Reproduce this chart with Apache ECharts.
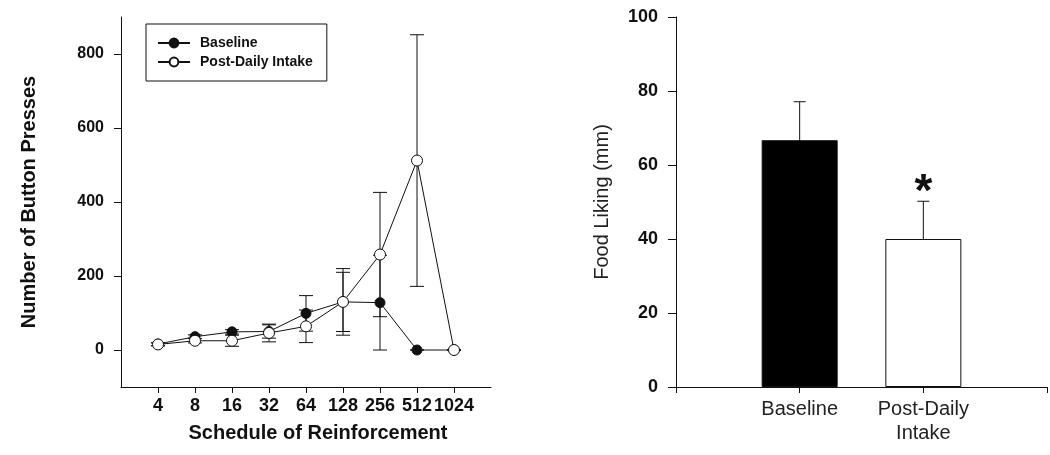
<!DOCTYPE html>
<html>
<head>
<meta charset="utf-8">
<script src="https://cdn.jsdelivr.net/npm/echarts@6/dist/echarts.min.js"></script>
<style>
html,body{margin:0;padding:0;background:#fff;}
#chart{width:1050px;height:455px;}
</style>
</head>
<body>
<div id="chart"></div>
<script>
// ---- Data (left panel) ----
const schedules = ['4', '8', '16', '32', '64', '128', '256', '512', '1024'];
const baseline = [16, 36, 49, 50, 99, 130, 128, 0, 0];
const baselineErr = [4, 5, 6, 18, 48, 80, 128, 0, 0];
const postDaily = [15, 25, 25, 46, 64, 130, 258, 512, 0];
const postDailyErr = [4, 6, 15, 24, 44, 90, 168, 340, 0];
const leftTicks = [0, 200, 400, 600, 800];

// ---- Data (right panel) ----
const groups = ['Baseline', 'Post-Daily\nIntake'];
const liking = [66.7, 40];
const likingErr = [10.4, 10.2];
const significance = ['', '*'];

const FONT = '"Liberation Sans", Arial, sans-serif';
const INK = '#111';

function xy(arr) { return arr.map((v, i) => [i + 1, v]); }
function errData(vals, errs) { return vals.map((v, i) => [i + 1, v, errs[i]]); }

function errRender(capHalf, withSig) {
  return function (params, api) {
    const x = api.value(0), y = api.value(1), e = api.value(2);
    const top = api.coord([x, y + e]);
    const bot = api.coord([x, y - e]);
    const style = { stroke: INK, lineWidth: 1, fill: null };
    const children = [
      { type: 'line', shape: { x1: top[0], y1: top[1], x2: bot[0], y2: bot[1] }, style: style },
      { type: 'line', shape: { x1: top[0] - capHalf, y1: top[1], x2: top[0] + capHalf, y2: top[1] }, style: style },
      { type: 'line', shape: { x1: bot[0] - capHalf, y1: bot[1], x2: bot[0] + capHalf, y2: bot[1] }, style: style }
    ];
    if (withSig) {
      const s = significance[params.dataIndex];
      if (s) {
        children.push({
          type: 'text',
          style: { text: s, x: top[0], y: top[1] + 15, align: 'center', verticalAlign: 'bottom',
            font: 'bold 46px ' + FONT, fill: INK }
        });
      }
    }
    return { type: 'group', children: children };
  };
}

const chart = echarts.init(document.getElementById('chart'), null, { renderer: 'canvas' });

chart.setOption({
  animation: false,
  backgroundColor: '#fff',
  legend: {
    left: 146, top: 24,
    orient: 'vertical',
    data: ['Baseline', 'Post-Daily Intake'],
    itemWidth: 32, itemHeight: 11, itemGap: 5,
    padding: [12, 14, 12, 11],
    borderColor: INK, borderWidth: 1,
    textStyle: { fontFamily: FONT, fontWeight: 'bold', fontSize: 14, color: INK, padding: [0, 0, 0, 5] }
  },
  grid: [
    { left: 121, top: 17, width: 370, height: 370 },
    { left: 676, top: 17, width: 371, height: 370 }
  ],
  xAxis: [
    {
      gridIndex: 0, type: 'value', min: 0, max: 10,
      name: 'Schedule of Reinforcement', nameLocation: 'middle', nameGap: 36,
      nameTextStyle: { fontFamily: FONT, fontWeight: 'bold', fontSize: 20, color: INK, padding: [0, 0, 0, 24] },
      axisLine: { onZero: false, lineStyle: { color: INK, width: 1 } },
      axisTick: { show: true, length: 6, lineStyle: { color: INK }, customValues: schedules.map((s, i) => i + 1) },
      axisLabel: { customValues: schedules.map((s, i) => i + 1), margin: 10, hideOverlap: false,
        formatter: v => schedules[Math.round(v) - 1] || '',
        fontFamily: FONT, fontWeight: 'bold', fontSize: 18, color: INK },
      splitLine: { show: false }
    },
    {
      gridIndex: 1, type: 'value', min: 0, max: 3, interval: 1,
      axisLine: { onZero: false, lineStyle: { color: INK, width: 1 } },
      axisTick: { show: true, length: 6, lineStyle: { color: INK } },
      axisLabel: { customValues: groups.map((g, i) => i + 1), margin: 10,
        formatter: v => groups[Math.round(v) - 1] || '',
        fontFamily: FONT, fontSize: 20, color: '#222', lineHeight: 24 },
      splitLine: { show: false }
    }
  ],
  yAxis: [
    {
      gridIndex: 0, type: 'value', min: -100, max: 900,
      name: 'Number of Button Presses', nameLocation: 'middle', nameGap: 82,
      nameTextStyle: { fontFamily: FONT, fontWeight: 'bold', fontSize: 20, color: INK },
      axisLine: { show: true, onZero: false, lineStyle: { color: INK, width: 1 } },
      axisTick: { show: true, length: 7, lineStyle: { color: INK }, customValues: leftTicks },
      axisLabel: { customValues: leftTicks, margin: 17, fontFamily: FONT, fontWeight: 'bold', fontSize: 16, color: INK },
      splitLine: { show: false }
    },
    {
      gridIndex: 1, type: 'value', min: 0, max: 100, interval: 20,
      name: 'Food Liking (mm)', nameLocation: 'middle', nameGap: 64,
      nameTextStyle: { fontFamily: FONT, fontSize: 20, color: '#222' },
      axisLine: { show: true, onZero: false, lineStyle: { color: INK, width: 1 } },
      axisTick: { show: true, length: 8, lineStyle: { color: INK } },
      axisLabel: { margin: 18, fontFamily: FONT, fontWeight: 'bold', fontSize: 18, color: INK },
      splitLine: { show: false }
    }
  ],
  series: [
    {
      type: 'custom', xAxisIndex: 0, yAxisIndex: 0, z: 1,
      data: errData(baseline, baselineErr), renderItem: errRender(7, false), silent: true
    },
    {
      type: 'custom', xAxisIndex: 0, yAxisIndex: 0, z: 1,
      data: errData(postDaily, postDailyErr), renderItem: errRender(7, false), silent: true
    },
    {
      name: 'Baseline', type: 'line', xAxisIndex: 0, yAxisIndex: 0, z: 3,
      data: xy(baseline),
      symbol: 'circle', symbolSize: 10,
      lineStyle: { color: INK, width: 1 },
      itemStyle: { color: INK, borderColor: INK, borderWidth: 1 }
    },
    {
      name: 'Post-Daily Intake', type: 'line', xAxisIndex: 0, yAxisIndex: 0, z: 4,
      data: xy(postDaily),
      symbol: 'circle', symbolSize: 11,
      lineStyle: { color: INK, width: 1 },
      itemStyle: { color: '#fff', borderColor: INK, borderWidth: 1 }
    },
    {
      type: 'bar', xAxisIndex: 1, yAxisIndex: 1, z: 2,
      data: liking.map((v, i) => ({
        value: [i + 1, v],
        itemStyle: { color: i === 0 ? '#000' : '#fff', borderColor: INK, borderWidth: 1 }
      })),
      barWidth: 76
    },
    {
      type: 'custom', xAxisIndex: 1, yAxisIndex: 1, z: 1,
      data: errData(liking, likingErr), renderItem: errRender(6, true), silent: true
    }
  ]
});
</script>
</body>
</html>
